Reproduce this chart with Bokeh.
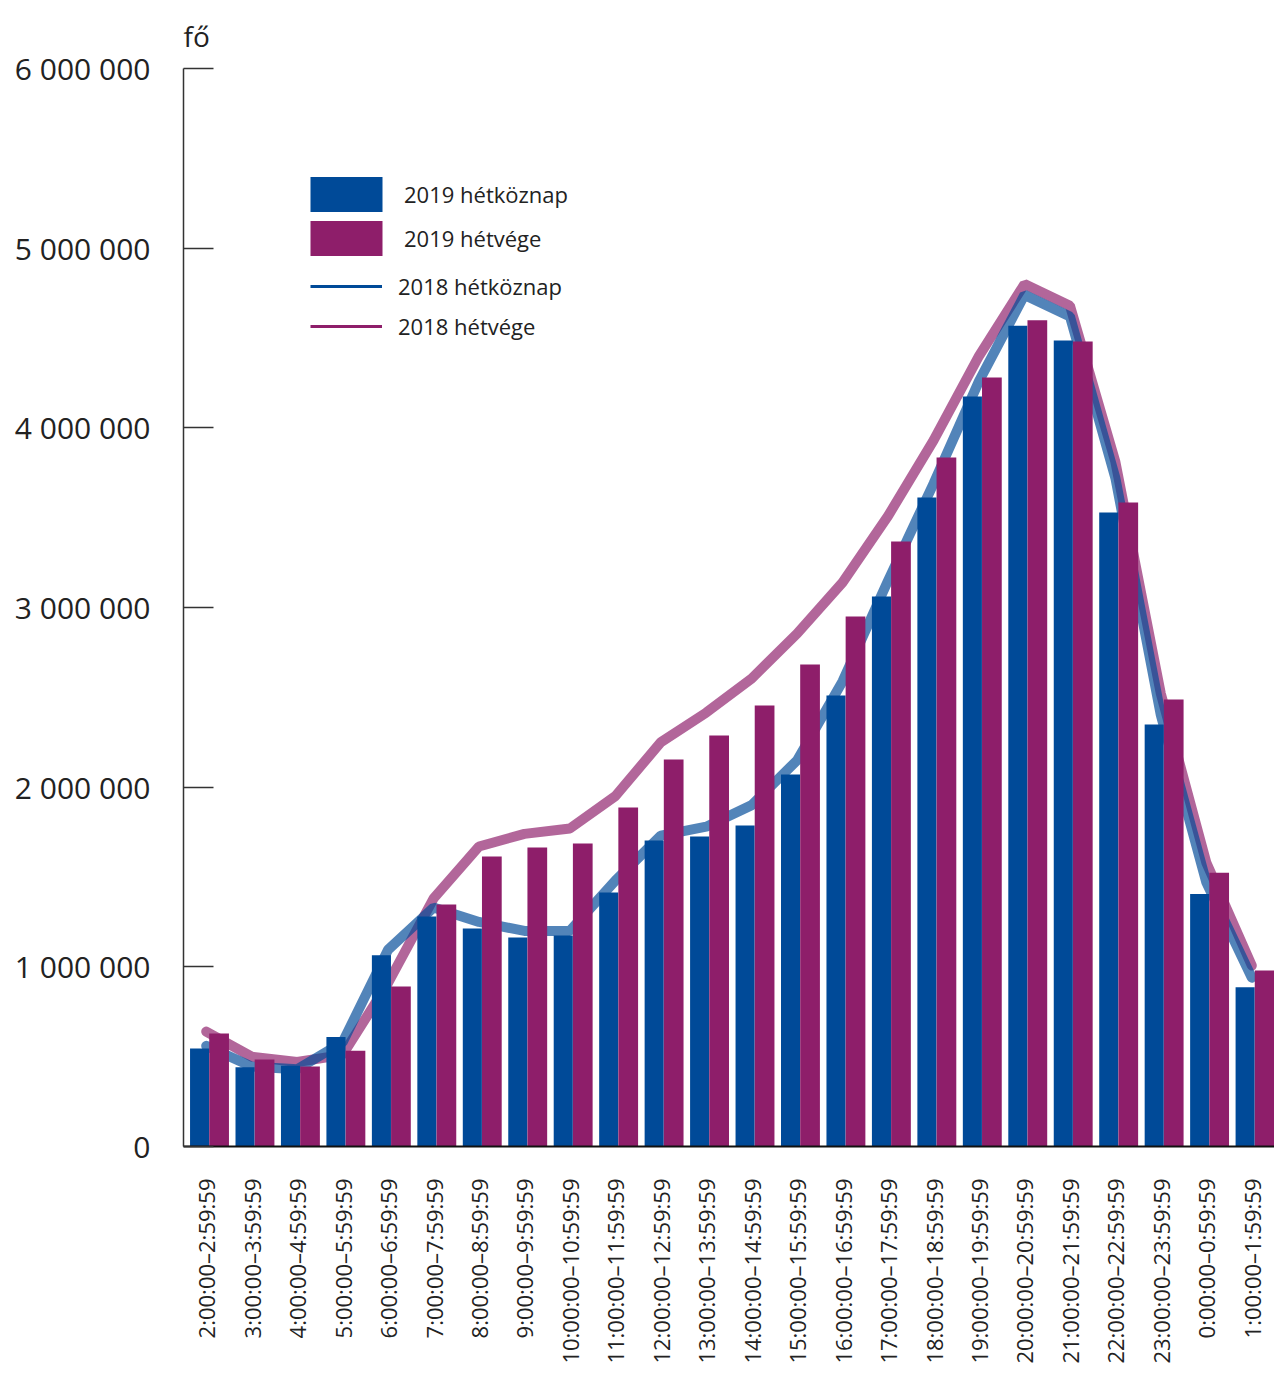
import math
from bokeh.plotting import figure
from bokeh.models import (ColumnDataSource, FactorRange, FixedTicker, Legend, LegendItem, Title)
from bokeh.transform import dodge
from bokeh.embed import file_html
from bokeh.resources import INLINE

categories = ["2:00:00–2:59:59", "3:00:00–3:59:59", "4:00:00–4:59:59", "5:00:00–5:59:59",
              "6:00:00–6:59:59", "7:00:00–7:59:59", "8:00:00–8:59:59", "9:00:00–9:59:59",
              "10:00:00–10:59:59", "11:00:00–11:59:59", "12:00:00–12:59:59", "13:00:00–13:59:59",
              "14:00:00–14:59:59", "15:00:00–15:59:59", "16:00:00–16:59:59", "17:00:00–17:59:59",
              "18:00:00–18:59:59", "19:00:00–19:59:59", "20:00:00–20:59:59", "21:00:00–21:59:59",
              "22:00:00–22:59:59", "23:00:00–23:59:59", "0:00:00–0:59:59", "1:00:00–1:59:59"]

weekday_2019 = [545000, 441000, 449000, 610000, 1065000, 1280000, 1213000, 1163000,
                1174000, 1414000, 1703000, 1725000, 1787000, 2070000, 2510000, 3061000,
                3612000, 4174000, 4568000, 4486000, 3529000, 2349000, 1406000, 887000]
weekend_2019 = [629000, 484000, 445000, 533000, 891000, 1347000, 1614000, 1664000,
                1686000, 1887000, 2154000, 2288000, 2454000, 2683000, 2950000, 3367000,
                3835000, 4280000, 4599000, 4480000, 3584000, 2488000, 1523000, 980000]
weekday_2018 = [560000, 445000, 430000, 580000, 1095000, 1330000, 1250000, 1200000,
                1200000, 1480000, 1730000, 1780000, 1900000, 2150000, 2590000, 3150000,
                3690000, 4260000, 4740000, 4620000, 3720000, 2400000, 1470000, 940000]
weekend_2018 = [640000, 500000, 470000, 510000, 910000, 1380000, 1670000, 1740000,
                1770000, 1950000, 2250000, 2415000, 2605000, 2855000, 3140000, 3510000,
                3930000, 4400000, 4800000, 4680000, 3810000, 2520000, 1580000, 1007000]

y_ticks = [0, 1000000, 2000000, 3000000, 4000000, 5000000, 6000000]
y_tick_labels = ["0", "1 000 000", "2 000 000", "3 000 000", "4 000 000", "5 000 000", "6 000 000"]

series_names = ["2019 hétköznap", "2019 hétvége", "2018 hétköznap", "2018 hétvége"]
unit_label = "fő"

BLUE = "#004a98"
PURPLE = "#8e1e6a"
FONT = "Open Sans"
TEXT = "#222222"

source = ColumnDataSource(dict(cat=categories, wd19=weekday_2019, we19=weekend_2019,
                               wd18=weekday_2018, we18=weekend_2018))

p = figure(x_range=FactorRange(*categories, range_padding=0), y_range=(0, 6000000),
           width=1274, height=1374, output_backend="svg", toolbar_location=None,
           min_border_left=183, min_border_right=0, min_border_top=68, min_border_bottom=228)

# 2018 lines (behind the bars)
p.line(x="cat", y="we18", source=source, line_color=PURPLE, line_alpha=0.68,
       line_width=10, line_cap="round")
p.line(x="cat", y="wd18", source=source, line_color=BLUE, line_alpha=0.68,
       line_width=10, line_cap="round")

# 2019 bars
r_wd = p.vbar(x=dodge("cat", -0.146, range=p.x_range), top="wd19", width=0.42,
              source=source, fill_color=BLUE, line_color=None)
r_we = p.vbar(x=dodge("cat", 0.283, range=p.x_range), top="we19", width=0.434,
              source=source, fill_color=PURPLE, line_color=None)

# legend-only line renderers (no visible data)
nan = float("nan")
d_wd = p.line(x=[categories[0], categories[1]], y=[nan, nan], line_color=BLUE, line_width=3)
d_we = p.line(x=[categories[0], categories[1]], y=[nan, nan], line_color=PURPLE, line_width=3)

leg1 = Legend(items=[LegendItem(label=series_names[0], renderers=[r_wd]),
                     LegendItem(label=series_names[1], renderers=[r_we])],
              location=(118, 886), glyph_width=90, glyph_height=44, label_height=44,
              spacing=-2, padding=0, margin=0, label_standoff=13,
              label_text_font=FONT, label_text_font_size="22px", label_text_color=TEXT,
              border_line_color=None, background_fill_alpha=0)
leg2 = Legend(items=[LegendItem(label=series_names[2], renderers=[d_wd]),
                     LegendItem(label=series_names[3], renderers=[d_we])],
              location=(127, 805), glyph_width=72, glyph_height=30, label_height=30,
              spacing=10, padding=0, margin=0, label_standoff=16,
              label_text_font=FONT, label_text_font_size="22px", label_text_color=TEXT,
              border_line_color=None, background_fill_alpha=0)
p.add_layout(leg1, "center")
p.add_layout(leg2, "center")

p.add_layout(Title(text=unit_label, align="left", text_font=FONT, text_font_size="28px",
                   text_font_style="normal", text_color=TEXT, standoff=28), "above")

# axes
p.xgrid.visible = False
p.ygrid.visible = False
p.outline_line_color = None

p.yaxis.ticker = FixedTicker(ticks=y_ticks)
p.yaxis.major_label_overrides = {t: l for t, l in zip(y_ticks, y_tick_labels)}
p.yaxis.major_tick_in = 30
p.yaxis.major_tick_out = 0
p.yaxis.minor_tick_line_color = None
p.yaxis.major_tick_line_color = "#333333"
p.yaxis.major_tick_line_width = 1.5
p.yaxis.axis_line_color = "#333333"
p.yaxis.axis_line_width = 1.5
p.yaxis.major_label_standoff = 33
p.yaxis.major_label_text_font = FONT
p.yaxis.major_label_text_font_size = "30px"
p.yaxis.major_label_text_color = TEXT

p.xaxis.major_label_orientation = math.pi / 2
p.xaxis.major_tick_line_color = None
p.xaxis.minor_tick_line_color = None
p.xaxis.axis_line_color = "#111111"
p.xaxis.axis_line_width = 2
p.xaxis.major_label_standoff = 26
p.xaxis.major_label_text_font = FONT
p.xaxis.major_label_text_font_size = "22px"
p.xaxis.major_label_text_color = TEXT

open("out.html", "w").write(file_html(p, INLINE))
